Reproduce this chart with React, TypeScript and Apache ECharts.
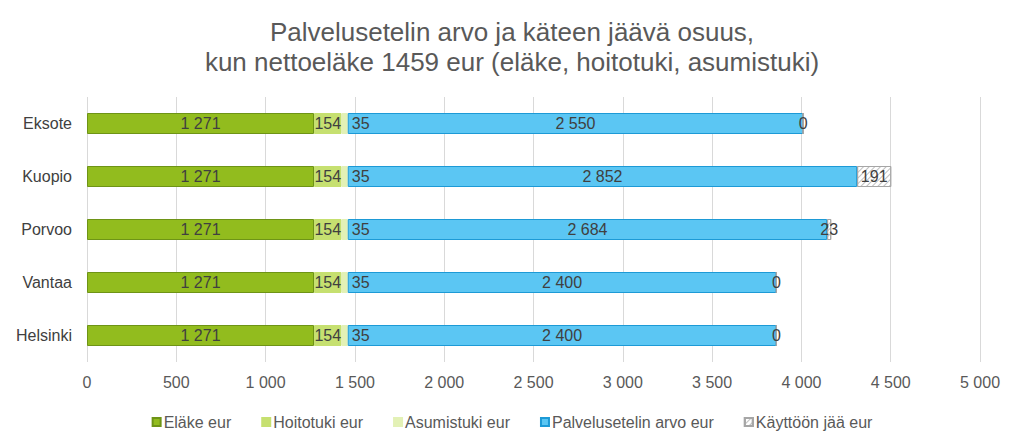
import React, { useEffect, useRef } from "react";
import * as echarts from "echarts";

const categories = ["Eksote", "Kuopio", "Porvoo", "Vantaa", "Helsinki"];
const elake = [1271, 1271, 1271, 1271, 1271];
const hoitotuki = [154, 154, 154, 154, 154];
const asumistuki = [35, 35, 35, 35, 35];
const palveluseteli = [2550, 2852, 2684, 2400, 2400];
const kayttoon = [0, 191, 23, 0, 0];
const xTicks = [0, 500, 1000, 1500, 2000, 2500, 3000, 3500, 4000, 4500, 5000];

const FONT = "Liberation Sans, Arial, sans-serif";
const fmt = (v: number) => {
  const s = String(Math.round(v));
  return s.replace(/\B(?=(\d{3})+(?!\d))/g, " ");
};

export default function App() {
  const ref = useRef<HTMLDivElement>(null);
  useEffect(() => {
    if (!ref.current) return;
    const chart = echarts.init(ref.current, undefined, { renderer: "svg" });
    const label = (pos: any, extra: any = {}) => ({
      show: true,
      position: pos,
      color: "#404040",
      fontSize: 16,
      fontFamily: FONT,
      formatter: (p: any) => fmt(p.value),
      ...extra,
    });
    const mk = (name: string, data: number[], color: string, border: string, lab: any, extra: any = {}) => ({
      name,
      type: "bar",
      stack: "s",
      data,
      barWidth: 21,
      itemStyle: { color, borderColor: border, borderWidth: 1 },
      label: lab,
      ...extra,
    });
    chart.setOption({
      animation: false,
      backgroundColor: "#fff",
      title: {
        text: "Palvelusetelin arvo ja käteen jäävä osuus,\nkun nettoeläke 1459 eur (eläke, hoitotuki, asumistuki)",
        left: "center",
        top: 12,
        textStyle: { fontFamily: FONT, fontSize: 26, fontWeight: "normal", color: "#595959", lineHeight: 30 },
      },
      grid: { left: 87, right: 44, top: 97, height: 265, containLabel: false },
      xAxis: {
        type: "value",
        min: 0,
        max: 5000,
        interval: 500,
        axisLine: { show: false },
        axisTick: { show: false },
        splitLine: { lineStyle: { color: "#d9d9d9" } },
        axisLabel: {
          color: "#595959",
          fontSize: 16,
          fontFamily: FONT,
          margin: 12,
          formatter: (v: number) => (xTicks.includes(v) ? fmt(v) : ""),
        },
      },
      yAxis: {
        type: "category",
        data: categories,
        inverse: true,
        axisLine: { show: false },
        axisTick: { show: false },
        axisLabel: { color: "#404040", fontSize: 16, fontFamily: FONT, margin: 15 },
      },
      legend: {
        bottom: 13,
        left: "center",
        itemWidth: 8,
        itemHeight: 8,
        itemGap: 30,
        icon: "rect",
        textStyle: { color: "#595959", fontSize: 16, fontFamily: FONT, padding: [0, 0, 0, -2] },
      },
      series: [
        mk("Eläke eur", elake, "#92BC1E", "#6E9416", label("inside")),
        mk("Hoitotuki eur", hoitotuki, "#C6E070", "#C6E070", label("inside")),
        mk("Asumistuki eur", asumistuki, "#E3F1B6", "#E3F1B6", label("right", { distance: 4 })),
        mk("Palvelusetelin arvo eur", palveluseteli, "#5BC6F3", "#1D9AD6", label("inside")),
        mk("Käyttöön jää eur", kayttoon, "#ffffff", "#a6a6a6", label("inside"), {
          itemStyle: {
            color: "#ffffff",
            borderColor: "#a6a6a6",
            borderWidth: 1,
            decal: {
              symbol: "rect",
              symbolSize: 1,
              color: "#bfbfbf",
              dashArrayX: [1, 0],
              dashArrayY: [1, 3],
              rotation: -Math.PI / 4,
            },
          },
        }),
      ],
      graphic: [
        {
          type: "rect",
          left: 2,
          top: 2,
          shape: { width: 1018, height: 442 },
          style: { fill: "none", stroke: "#d9d9d9", lineWidth: 1 },
          silent: true,
        },
      ],
    });
    return () => chart.dispose();
  }, []);
  return <div ref={ref} style={{ width: 1024, height: 448, margin: -8 }} />;
}
